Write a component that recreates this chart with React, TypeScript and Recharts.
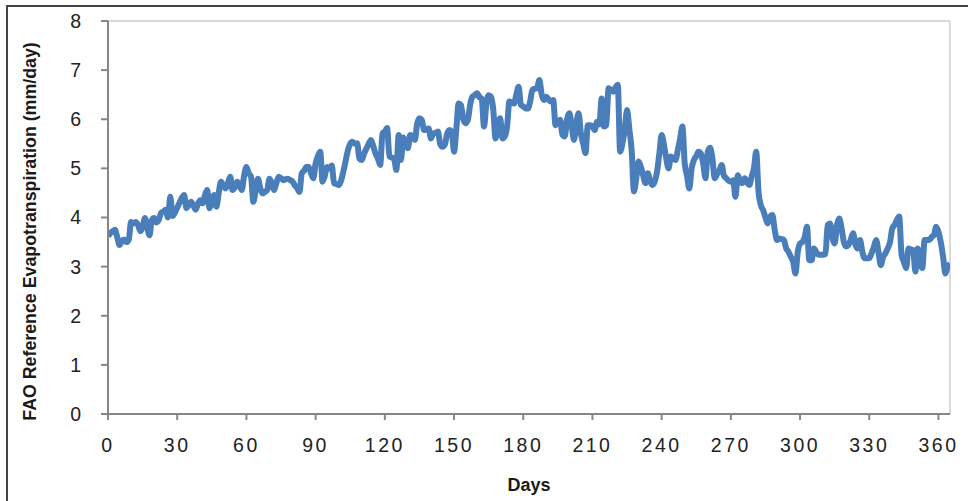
import React from "react";
import { LineChart, Line, XAxis, YAxis, ReferenceLine } from "recharts";

const xTicks = [0, 30, 60, 90, 120, 150, 180, 210, 240, 270, 300, 330, 360];
const yTicks = [0, 1, 2, 3, 4, 5, 6, 7, 8];
const xTitle = "Days";
const yTitle = "FAO Reference Evapotranspiration (mm/day)";

const et0 = [
  3.62, 3.68, 3.72, 3.75, 3.6, 3.44, 3.52, 3.55, 3.5, 3.55,
  3.91, 3.88, 3.91, 3.85, 3.72, 3.8, 3.99, 3.8, 3.64, 3.95,
  3.99, 3.9, 3.95, 4.09, 4.12, 4.16, 4.0, 4.42, 4.03, 4.1,
  4.2, 4.3, 4.4, 4.46, 4.19, 4.25, 4.32, 4.25, 4.16, 4.28,
  4.35, 4.29, 4.45, 4.56, 4.19, 4.3, 4.46, 4.22, 4.5, 4.73,
  4.65, 4.59, 4.7, 4.83, 4.56, 4.62, 4.73, 4.65, 4.56, 4.85,
  5.03, 4.9, 4.83, 4.32, 4.55, 4.79, 4.6, 4.49, 4.52, 4.56,
  4.79, 4.7, 4.56, 4.7, 4.83, 4.8, 4.76, 4.78, 4.79, 4.76,
  4.73, 4.65, 4.6, 4.52, 4.9, 4.95, 5.03, 5.03, 4.9, 4.8,
  5.1, 5.25, 5.34, 4.73, 4.85, 5.03, 5.0, 5.06, 4.7, 4.68,
  4.66, 4.75, 4.93, 5.15, 5.37, 5.5, 5.54, 5.5, 5.51, 5.2,
  5.17, 5.3, 5.4, 5.5, 5.58, 5.45, 5.3, 5.2, 5.07, 5.71,
  5.75, 5.82, 5.24, 5.22, 5.2, 4.97, 5.68, 5.17, 5.63, 5.5,
  5.41, 5.68, 5.65, 5.58, 5.9, 6.02, 5.99, 5.78, 5.8, 5.81,
  5.61, 5.71, 5.72, 5.75, 5.5, 5.44, 5.48, 5.7, 5.78, 5.75,
  5.34, 5.8, 6.32, 6.29, 6.0, 5.92, 5.99, 6.3, 6.46, 6.49,
  6.53, 6.45, 6.42, 5.85, 6.3, 6.49, 6.46, 6.2, 5.61, 5.8,
  6.02, 5.61, 5.65, 5.85, 6.36, 6.34, 6.32, 6.5, 6.66, 6.29,
  6.26, 6.22, 6.22, 6.36, 6.6, 6.62, 6.63, 6.8, 6.5, 6.39,
  6.46, 6.4, 6.36, 6.39, 5.88, 5.95, 5.99, 5.68, 5.65, 6.0,
  6.12, 5.88, 5.58, 5.9, 6.12, 5.71, 5.5, 5.31, 5.88, 5.88,
  5.85, 5.78, 5.95, 5.9, 6.42, 5.85, 5.88, 6.63, 6.6, 6.56,
  6.65, 6.7, 5.34, 5.51, 5.8, 6.19, 5.8, 5.37, 4.53, 4.8,
  5.14, 5.03, 4.85, 4.7, 4.9, 4.75, 4.66, 4.73, 4.93, 5.3,
  5.68, 5.48, 5.2, 5.0, 5.24, 5.2, 5.17, 5.37, 5.6, 5.85,
  5.1, 4.85, 4.59, 5.0, 5.17, 5.25, 5.34, 5.3, 5.1, 4.8,
  5.34, 5.42, 5.2, 4.8, 4.88, 4.95, 5.07, 4.85, 4.8, 4.75,
  4.73, 4.76, 4.42, 4.86, 4.75, 4.7, 4.8, 4.72, 4.66, 4.83,
  5.0, 5.34, 4.52, 4.25, 4.15, 4.0, 3.88, 4.01, 4.05, 3.75,
  3.54, 3.57, 3.56, 3.54, 3.37, 3.3, 3.2, 3.1, 2.86, 3.3,
  3.47, 3.5, 3.6, 3.81, 3.13, 3.13, 3.37, 3.3, 3.24, 3.24,
  3.24, 3.26, 3.85, 3.88, 3.6, 3.47, 3.85, 3.98, 3.78, 3.5,
  3.41, 3.44, 3.55, 3.68, 3.45, 3.37, 3.54, 3.3, 3.17, 3.17,
  3.17, 3.27, 3.4, 3.54, 3.3, 3.03, 3.2, 3.27, 3.37, 3.5,
  3.78, 3.85, 3.95, 4.02, 3.24, 3.1, 2.97, 3.37, 3.35, 3.34,
  2.9, 3.37, 3.1, 2.97, 3.54, 3.54, 3.54, 3.6, 3.64, 3.81,
  3.7, 3.5, 3.2, 2.86, 3.0, 3.06,
];

const days = et0.map((_, i) => i);
const data = days.map((d, i) => ({ day: d, et: et0[i] }));

const FONT = "'Liberation Sans', Arial, sans-serif";

const YTitle = (props: any) => {
  const vb = props.viewBox || { x: 0, y: 0, width: 0, height: 0 };
  const cx = vb.x + 30;
  const cy = vb.y + vb.height / 2 + 14;
  return (
    <text
      x={cx}
      y={cy}
      transform={`rotate(-90, ${cx}, ${cy})`}
      textAnchor="middle"
      dominantBaseline="central"
      fontFamily={FONT}
      fontWeight="bold"
      fontSize={17.8}
      fill="#1a1a1a"
    >
      {yTitle}
    </text>
  );
};

const XTitle = (props: any) => {
  const vb = props.viewBox || { x: 0, y: 0, width: 0, height: 0 };
  return (
    <text
      x={vb.x + vb.width / 2}
      y={vb.y + 71}
      textAnchor="middle"
      dominantBaseline="central"
      fontFamily={FONT}
      fontWeight="bold"
      fontSize={18}
      fill="#1a1a1a"
    >
      {xTitle}
    </text>
  );
};

export default function App() {
  return (
    <div style={{ position: "absolute", left: 0, top: 0, width: 968, height: 501, background: "#fff" }}>
      <div
        style={{
          position: "absolute",
          left: 6,
          top: 5,
          width: 962,
          height: 496,
          borderTop: "2px solid #444",
          borderLeft: "2px solid #444",
          boxSizing: "border-box",
        }}
      />
      <div style={{ position: "absolute", left: 0, top: 0 }}>
        <LineChart
          width={968}
          height={501}
          data={data}
          margin={{ top: 21, right: 18, bottom: 0, left: 0 }}
        >
          <ReferenceLine y={8} stroke="#d9d9d9" strokeWidth={2} ifOverflow="visible" />
          <ReferenceLine x={365} stroke="#d9d9d9" strokeWidth={2} ifOverflow="visible" />
          <XAxis
            dataKey="day"
            type="number"
            domain={[0, 365]}
            ticks={xTicks}
            interval={0}
            height={87}
            allowDataOverflow
            axisLine={{ stroke: "#868686", strokeWidth: 2 }}
            tickLine={{ stroke: "#868686", strokeWidth: 2 }}
            tickSize={6}
            tickMargin={18}
            tick={{ fontSize: 19.5, fill: "#222", fontFamily: FONT, letterSpacing: 2.5 }}
            label={<XTitle />}
          />
          <YAxis
            type="number"
            domain={[0, 8]}
            ticks={yTicks}
            interval={0}
            width={108}
            axisLine={{ stroke: "#868686", strokeWidth: 2 }}
            tickLine={{ stroke: "#868686", strokeWidth: 2 }}
            tickSize={7}
            tickMargin={20}
            tick={{ fontSize: 19.5, fill: "#222", fontFamily: FONT }}
            label={<YTitle />}
          />
          <Line
            type="monotone"
            dataKey="et"
            stroke="#4A7EBB"
            strokeWidth={6}
            dot={false}
            activeDot={false}
            isAnimationActive={false}
          />
        </LineChart>
      </div>
    </div>
  );
}
